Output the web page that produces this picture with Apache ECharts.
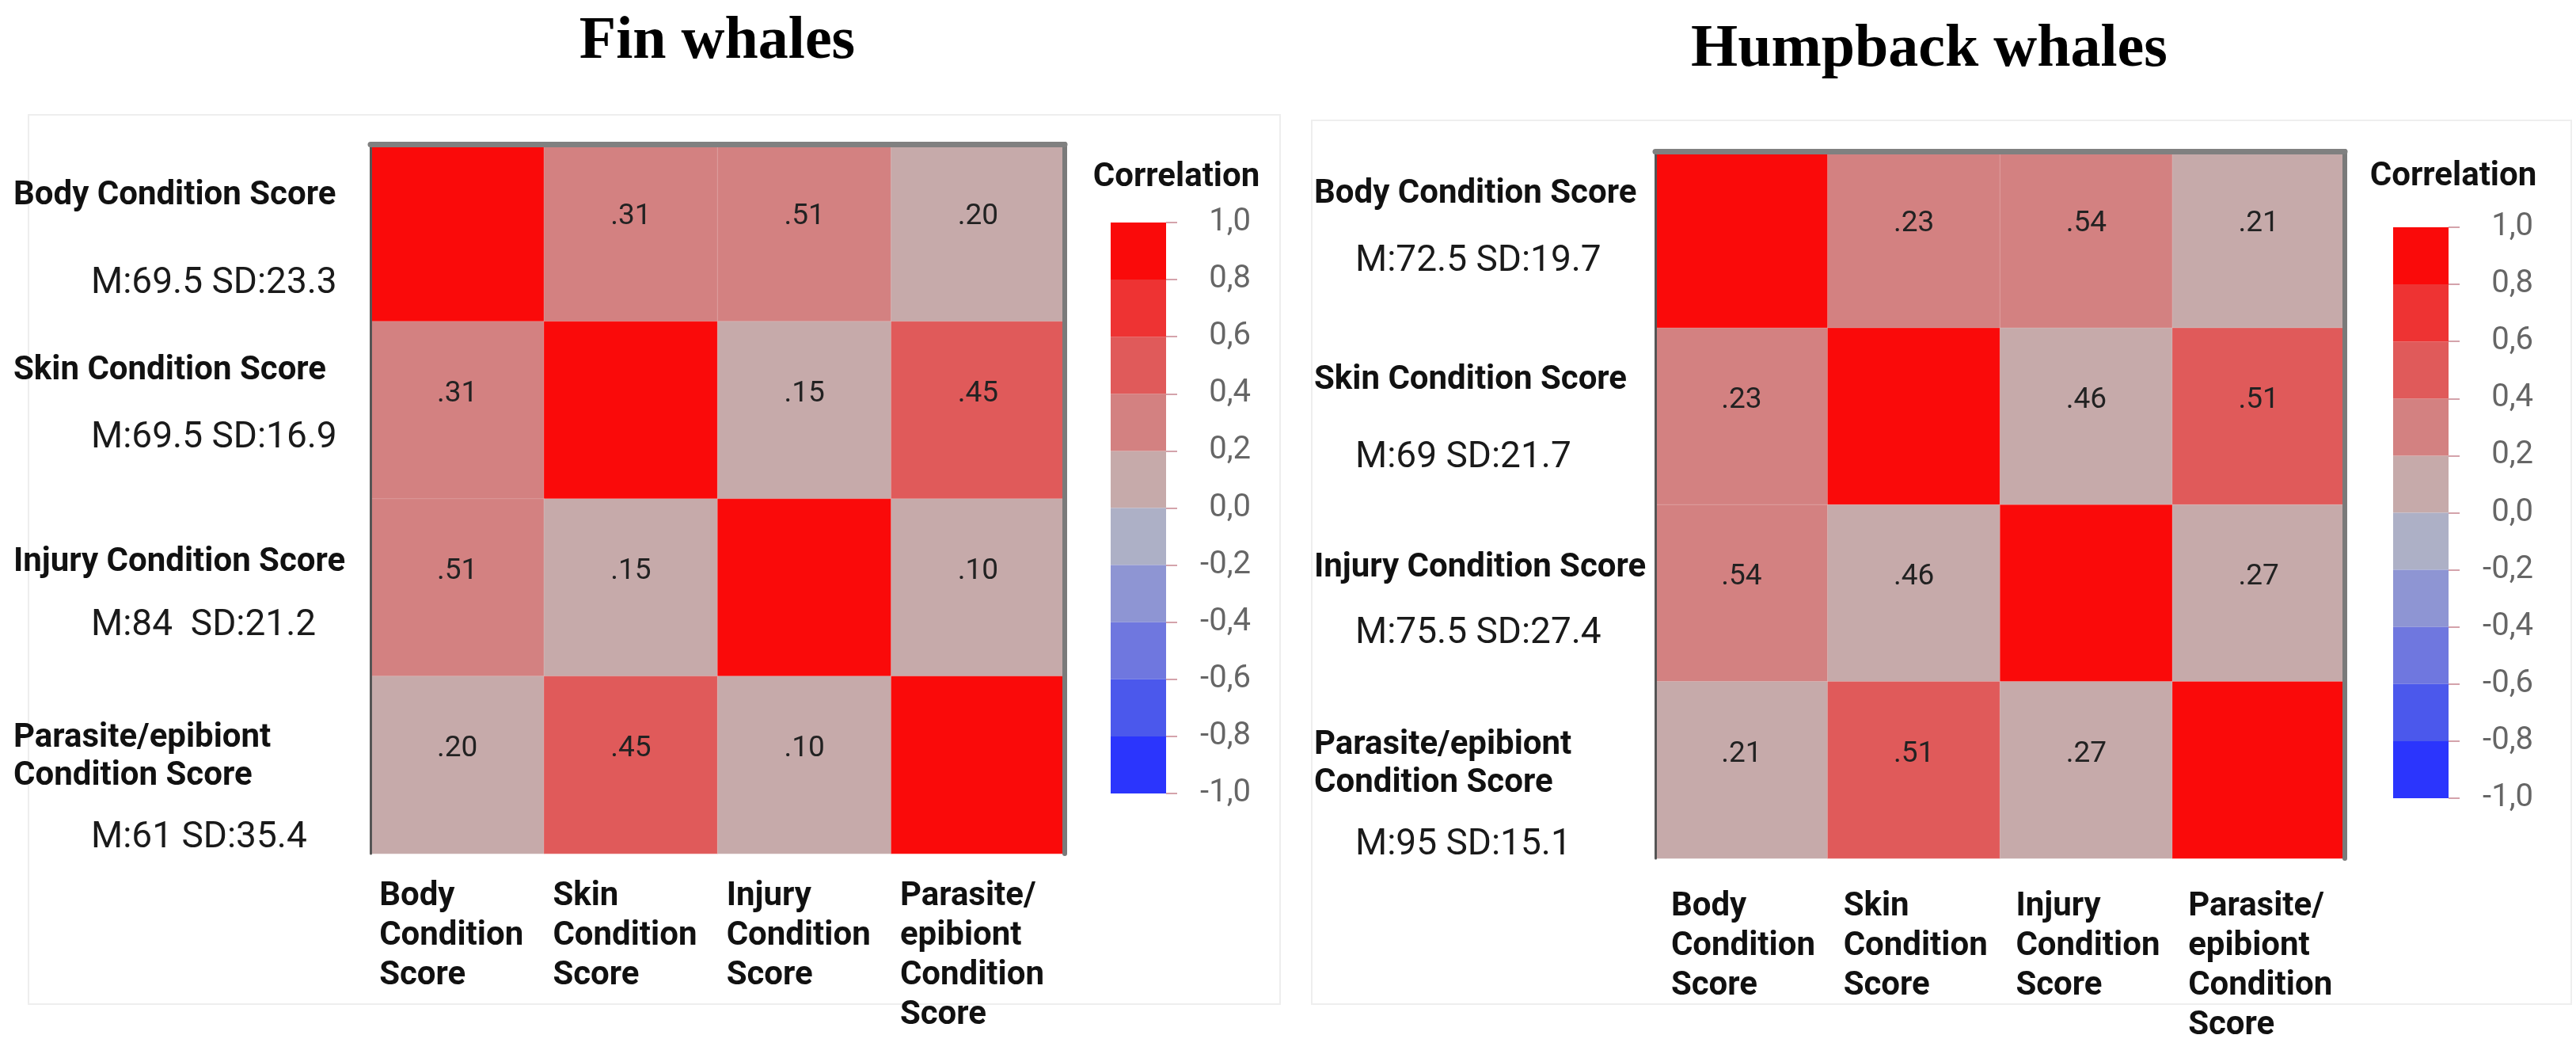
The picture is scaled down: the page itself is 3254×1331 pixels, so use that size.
<!DOCTYPE html>
<html>
<head>
<meta charset="utf-8">
<script src="https://cdn.jsdelivr.net/npm/echarts@6/dist/echarts.min.js"></script>
<style>
  html, body { margin: 0; padding: 0; background: #ffffff; }
  #chart { width: 3254px; height: 1331px; }
</style>
</head>
<body>
<div id="chart"></div>
<script>
// ---------------- data ----------------
const panelTitles = ['Fin whales', 'Humpback whales'];
const legendTitle = 'Correlation';
const categories = ['Body Condition Score', 'Skin Condition Score', 'Injury Condition Score', 'Parasite/epibiont Condition Score'];
const xLabels = ['Body\nCondition\nScore', 'Skin\nCondition\nScore', 'Injury\nCondition\nScore', 'Parasite/\nepibiont\nCondition\nScore'];
const yTitles = [['Body Condition Score'], ['Skin Condition Score'], ['Injury Condition Score'], ['Parasite/epibiont', 'Condition Score']];
const finStats = ['M:69.5 SD:23.3', 'M:69.5 SD:16.9', 'M:84  SD:21.2', 'M:61 SD:35.4'];
const humpStats = ['M:72.5 SD:19.7', 'M:69 SD:21.7', 'M:75.5 SD:27.4', 'M:95 SD:15.1'];
// printed correlation labels
const finR = [
  [1, 0.31, 0.51, 0.20],
  [0.31, 1, 0.15, 0.45],
  [0.51, 0.15, 1, 0.10],
  [0.20, 0.45, 0.10, 1]
];
const humpR = [
  [1, 0.23, 0.54, 0.21],
  [0.23, 1, 0.46, 0.51],
  [0.54, 0.46, 1, 0.27],
  [0.21, 0.51, 0.27, 1]
];
// value implied by each cell's fill colour as drawn in the figure
const finFill = [
  [1, 0.31, 0.35, 0.18],
  [0.31, 1, 0.15, 0.45],
  [0.35, 0.15, 1, 0.10],
  [0.18, 0.45, 0.10, 1]
];
const humpFill = [
  [1, 0.23, 0.35, 0.18],
  [0.23, 1, 0.15, 0.51],
  [0.35, 0.15, 1, 0.18],
  [0.18, 0.51, 0.18, 1]
];
const bandEdges = [-1.0, -0.8, -0.6, -0.4, -0.2, 0.0, 0.2, 0.4, 0.6, 0.8, 1.0];
const bandColors = ['#2b35fd', '#4b58ec', '#6f77df', '#8e95d3', '#adb0c6', '#c6aaaa', '#d38181', '#e05a5a', '#ee3333', '#fa0a0a'];

// ---------------- layout (styling only) ----------------
const FONT = 'Roboto, "Liberation Sans", Arial, sans-serif';
const finLabelOffsets = [[-47, 64], [-50, 35], [-32, 48], [-34, 92]];
const humpLabelOffsets = [[-57, 28], [-45, 53], [-32, 51], [-31, 95]];

function buildYLabels(stats, offsets, indent, prefix) {
  const Lt = 48, Lm = 52;
  const rich = {
    t: { fontFamily: FONT, fontWeight: 'bold', fontSize: 42, lineHeight: Lt, color: '#111' }
  };
  rich[prefix + 'm'] = { fontFamily: FONT, fontSize: 46, lineHeight: Lm, color: '#1a1a1a', padding: [0, 0, 0, indent] };
  const texts = yTitles.map((lines, i) => {
    const tOff = offsets[i][0], mOff = offsets[i][1];
    const n = lines.length;
    const T = tOff - Lt / 2;
    const lastBottom = tOff + (n - 1) * Lt + Lt / 2;
    const mTop = mOff - Lm / 2;
    const gap = Math.max(0, mTop - lastBottom);
    const B = mOff + Lm / 2;
    const top = Math.min(T, -B), bottom = Math.max(B, -T);
    const a = T - top, c = bottom - B;
    const parts = [];
    if (a > 0.5) { rich[prefix + 'a' + i] = { lineHeight: a, fontSize: 1 }; parts.push('{' + prefix + 'a' + i + '| }'); }
    lines.forEach(l => parts.push('{t|' + l + '}'));
    if (gap > 0.5) { rich[prefix + 'g' + i] = { lineHeight: gap, fontSize: 1 }; parts.push('{' + prefix + 'g' + i + '| }'); }
    parts.push('{' + prefix + 'm|' + stats[i] + '}');
    if (c > 0.5) { rich[prefix + 'c' + i] = { lineHeight: c, fontSize: 1 }; parts.push('{' + prefix + 'c' + i + '| }'); }
    return parts.join('\n');
  });
  return { texts, rich };
}

function heatData(R, F) {
  const d = [];
  for (let r = 0; r < categories.length; r++) {
    for (let c = 0; c < categories.length; c++) {
      d.push([c, r, R[r][c], F[r][c]]);
    }
  }
  return d;
}

function fmtR(v) { return v.toFixed(2).replace(/^0/, ''); }

const finY = buildYLabels(finStats, finLabelOffsets, 98, 'f');
const humpY = buildYLabels(humpStats, humpLabelOffsets, 52, 'h');

function xAxisLabel(tokenWidth, margin) {
  return {
    interval: 0,
    margin: margin,
    formatter: v => v.split('\n').map(l => '{x|' + l + '}').join('\n'),
    rich: { x: { width: tokenWidth, align: 'left', fontFamily: FONT, fontWeight: 'bold', fontSize: 42, lineHeight: 50, color: '#111' } }
  };
}

const pieces = [];
for (let i = 0; i < bandColors.length; i++) {
  const p = { gte: bandEdges[i], color: bandColors[i] };
  if (i === bandColors.length - 1) p.lte = bandEdges[i + 1]; else p.lt = bandEdges[i + 1];
  pieces.push(p);
}

// colour bar as stacked bars (positive bands upwards from 0, negative downwards)
function colorBarSeries(axisIdx, stackName) {
  const pos = [], neg = [];
  for (let i = 0; i < bandColors.length; i++) {
    const lo = bandEdges[i], hi = bandEdges[i + 1];
    if (lo >= 0) pos.push({ v: hi - lo, color: bandColors[i], key: lo });
    else neg.push({ v: -(hi - lo), color: bandColors[i], key: -hi });
  }
  pos.sort((a, b) => a.key - b.key);
  neg.sort((a, b) => a.key - b.key);
  return pos.concat(neg).map(b => ({
    type: 'bar', xAxisIndex: axisIdx, yAxisIndex: axisIdx, stack: stackName,
    barWidth: '100%', data: [b.v], itemStyle: { color: b.color }, silent: true
  }));
}

const heatLabel = {
  show: true,
  offset: [0, -20],
  fontFamily: FONT, fontSize: 37, color: '#222',
  formatter: p => (p.value[0] === p.value[1] ? '' : fmtR(p.value[2]))
};

const cbAxis = (grid) => ({
  type: 'value', gridIndex: grid, position: 'right', min: -1, max: 1, interval: 0.2,
  axisLine: { show: false }, splitLine: { show: false },
  axisTick: { show: true, length: 14, lineStyle: { color: '#d4a3ab', width: 2 } },
  axisLabel: {
    margin: 107, align: 'right', fontFamily: FONT, fontSize: 40, color: '#666666',
    formatter: v => (Math.abs(v) < 1e-9 ? 0 : v).toFixed(1).replace('.', ',')
  }
});

const borderX = (grid) => ({
  type: 'category', gridIndex: grid, position: 'top', data: xLabels, z: 5,
  axisLine: { show: true, lineStyle: { color: '#808080', width: 7 } },
  axisTick: { show: false }, axisLabel: { show: false }
});
const borderY = (grid) => ({
  type: 'category', gridIndex: grid, position: 'right', data: categories, inverse: true, z: 5,
  axisLine: { show: true, lineStyle: { color: '#7a7a7a', width: 6 } },
  axisTick: { show: false }, axisLabel: { show: false }
});

const option = {
  animation: false,
  backgroundColor: '#ffffff',
  title: [
    { text: panelTitles[0], left: 901, top: 8, textAlign: 'center',
      textStyle: { fontFamily: '"Liberation Serif", "Times New Roman", serif', fontWeight: 'bold', fontSize: 76, lineHeight: 80, color: '#000' } },
    { text: panelTitles[1], left: 2432, top: 18, textAlign: 'center',
      textStyle: { fontFamily: '"Liberation Serif", "Times New Roman", serif', fontWeight: 'bold', fontSize: 76, lineHeight: 80, color: '#000' } },
    { text: legendTitle, left: 1481, top: 194, textAlign: 'center',
      textStyle: { fontFamily: FONT, fontWeight: 'bold', fontSize: 42, lineHeight: 50, color: '#111' } },
    { text: legendTitle, left: 3094, top: 193, textAlign: 'center',
      textStyle: { fontFamily: FONT, fontWeight: 'bold', fontSize: 42, lineHeight: 50, color: '#111' } }
  ],
  graphic: [
    { type: 'rect', z: -10, shape: { x: 36, y: 145, width: 1581, height: 1123 }, style: { fill: 'none', stroke: '#eeeeee', lineWidth: 2 } },
    { type: 'rect', z: -10, shape: { x: 1657, y: 152, width: 1591, height: 1116 }, style: { fill: 'none', stroke: '#eeeeee', lineWidth: 2 } }
  ],
  grid: [
    { left: 468, top: 182, width: 877, height: 896 },
    { left: 2091, top: 191, width: 871, height: 893 },
    { left: 1403, top: 281, width: 70, height: 721 },
    { left: 3023, top: 287, width: 70, height: 721 }
  ],
  visualMap: {
    type: 'piecewise', show: false, dimension: 3, seriesIndex: [0, 1], pieces: pieces
  },
  xAxis: [
    { type: 'category', gridIndex: 0, data: xLabels, position: 'bottom',
      axisLine: { show: false }, axisTick: { show: false }, axisLabel: xAxisLabel(197, 29) },
    { type: 'category', gridIndex: 1, data: xLabels, position: 'bottom',
      axisLine: { show: false }, axisTick: { show: false }, axisLabel: xAxisLabel(178, 36) },
    { type: 'category', gridIndex: 2, data: [''], show: false },
    { type: 'category', gridIndex: 3, data: [''], show: false },
    borderX(0),
    borderX(1)
  ],
  yAxis: [
    { type: 'category', gridIndex: 0, data: categories, inverse: true, z: 5,
      axisLine: { show: true, lineStyle: { color: '#555555', width: 3 } }, axisTick: { show: false },
      axisLabel: { interval: 0, align: 'left', margin: 451, formatter: (v, i) => finY.texts[i], rich: finY.rich } },
    { type: 'category', gridIndex: 1, data: categories, inverse: true, z: 5,
      axisLine: { show: true, lineStyle: { color: '#555555', width: 3 } }, axisTick: { show: false },
      axisLabel: { interval: 0, align: 'left', margin: 431, formatter: (v, i) => humpY.texts[i], rich: humpY.rich } },
    cbAxis(2),
    cbAxis(3),
    borderY(0),
    borderY(1)
  ],
  series: [
    { type: 'heatmap', xAxisIndex: 0, yAxisIndex: 0, data: heatData(finR, finFill),
      itemStyle: { borderColor: 'rgba(255,255,255,0.18)', borderWidth: 1 }, label: heatLabel },
    { type: 'heatmap', xAxisIndex: 1, yAxisIndex: 1, data: heatData(humpR, humpFill),
      itemStyle: { borderColor: 'rgba(255,255,255,0.18)', borderWidth: 1 }, label: heatLabel }
  ].concat(colorBarSeries(2, 'cbFin'), colorBarSeries(3, 'cbHump'))
};

const chart = echarts.init(document.getElementById('chart'), null, { renderer: 'canvas' });
chart.setOption(option);
</script>
</body>
</html>
